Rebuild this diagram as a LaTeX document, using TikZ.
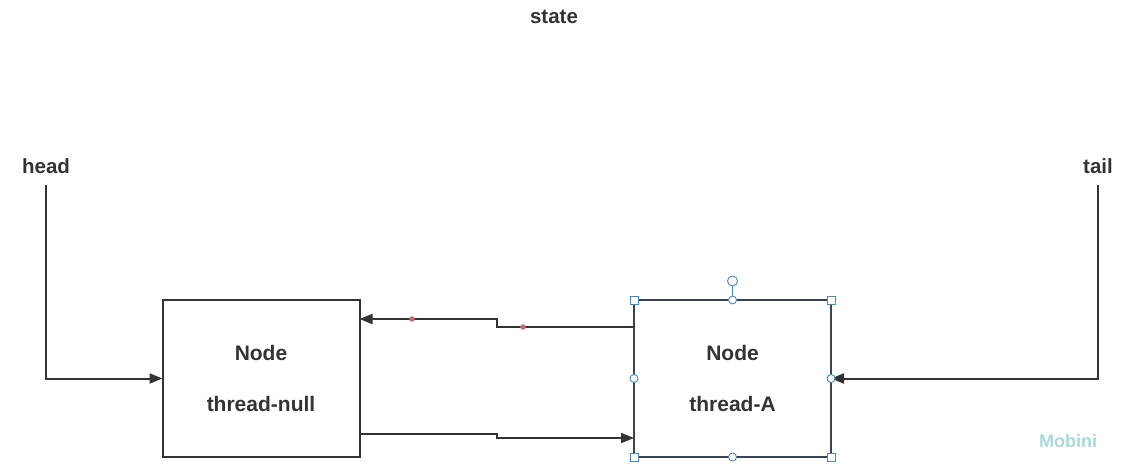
\documentclass[tikz,border=0pt]{standalone}
\usepackage{fontspec}
\setmainfont{Liberation Sans}
\usetikzlibrary{arrows.meta,calc}
\definecolor{ink}{HTML}{333333}
\definecolor{selblue}{HTML}{4A86C5}
\definecolor{dotred}{HTML}{C46A7C}
\definecolor{mark}{HTML}{A9D8D8}
\begin{document}
\begin{tikzpicture}[x=1pt,y=-1pt,>={Triangle[length=13pt,width=10pt]},line join=miter,
    lbl/.style={font=\fontsize{20.5}{24}\selectfont\bfseries,text=ink,inner sep=0pt},
    nodebox/.style={draw=ink,line width=2pt,outer sep=0pt,minimum width=197pt,minimum height=157pt,
        align=center,font=\fontsize{21}{51}\selectfont\bfseries,text=ink,inner sep=0pt},
    link/.style={draw=ink,line width=2pt},
    handle/.style={draw=selblue,fill=white,line width=0.9pt}]
                \useasboundingbox (0,0) rectangle (1129,476);
                \def\hs{4}
                \node[lbl] (state) at (554,17) {state};
                \node[lbl] (head) at (46,166) {head};
                \node[lbl] (tail) at (1098,166) {tail};
                \node[nodebox] (nul) at (261,378.5) {Node\\thread-null};
                \node[nodebox,draw=ink!80!selblue] (A) at (732.5,378.5) {Node\\thread-A};
                \draw[link,->] ($(head.south)+(0,11)$) |- (nul.west);
                \draw[link,->] ($(tail.south)+(0,11)$) |- (A.east);
                \draw[link,->] ($(A.north west)+(0,27)$) -| (497,319) -- ($(nul.north east)+(0,19)$);
                \draw[link,->] ($(nul.north east)+(0,134)$) -| (497,438) -- ($(A.north west)+(0,138)$);
                \foreach \p in {(412,319),(523,327)} \fill[dotred] \p circle (2.8);
                % selection handles
                \draw[selblue,line width=0.9pt] (A.north) -- ++(0,-14) coordinate (rot);
                \draw[handle] ($(rot)+(0,-5)$) circle (5);
                \foreach \c in {north west,north east,south west,south east}
                    \draw[handle] ($(A.\c)+(-\hs,-\hs)$) rectangle ($(A.\c)+(\hs,\hs)$);
                \foreach \c in {north,south,west,east}
                    \draw[handle] (A.\c) circle (4);
                \node[font=\fontsize{18}{20}\selectfont\bfseries,text=mark] (wm) at (1068,441) {Mobini};
            \end{tikzpicture}
\end{document}
